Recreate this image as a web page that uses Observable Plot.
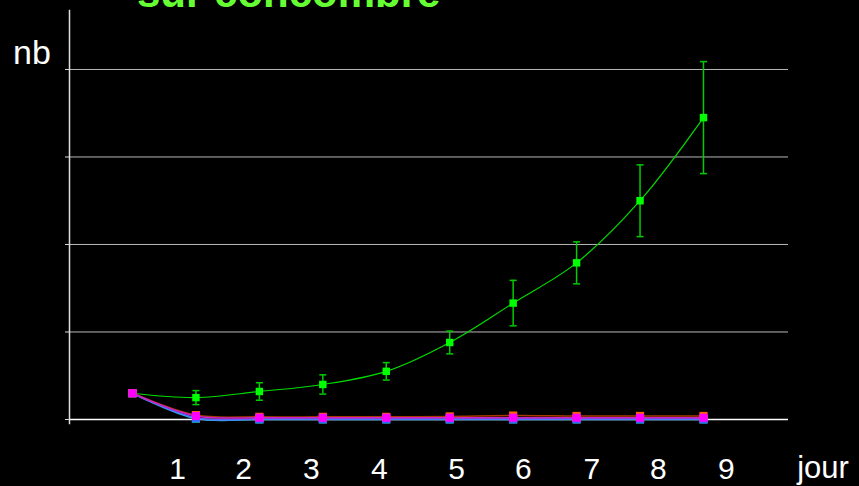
<!DOCTYPE html>
<html>
<head>
<meta charset="utf-8">
<script src="https://cdn.jsdelivr.net/npm/d3@7"></script>
<script src="https://cdn.jsdelivr.net/npm/@observablehq/plot@0.6"></script>
<style>
  html, body { margin: 0; padding: 0; background: #000; }
  #chart { position: relative; width: 859px; height: 486px; overflow: hidden; }
</style>
</head>
<body>
<div id="chart"></div>
<script>
// Days of observation (day 0 = initial count)
const days = [0, 1, 2, 3, 4, 5, 6, 7, 8, 9];

// Mean counts per series
const greenVals   = [0.30, 0.25, 0.32, 0.40, 0.55, 0.88, 1.33, 1.79, 2.50, 3.45];
const greenErr    = [0.00, 0.08, 0.10, 0.11, 0.10, 0.13, 0.26, 0.24, 0.41, 0.64];
const orangeVals  = [0.30, 0.05, 0.03, 0.03, 0.03, 0.035, 0.045, 0.04, 0.04, 0.04];
const magentaVals = [0.30, 0.04, 0.02, 0.02, 0.02, 0.02, 0.02, 0.02, 0.02, 0.02];
const blueVals    = [0.30, 0.02, 0.005, 0.005, 0.005, 0.005, 0.005, 0.005, 0.005, 0.005];
const cyanVals    = [0.30, 0.01, 0.0, 0.0, 0.0, 0.0, 0.0, 0.0, 0.0, 0.0];

// Horizontal reference lines
const gridVals = [0, 1, 2, 3, 4];

// Day labels along the bottom and where they sit on the day axis
const dayLabels = ["1", "2", "3", "4", "5", "6", "7", "8", "9"];
const labelPos  = [0.71, 1.75, 2.82, 3.89, 5.11, 6.16, 7.24, 8.29, 9.36];

const rows = (vals, err) => days.map((d, i) => ({
  day: d, v: vals[i],
  lo: err ? vals[i] - err[i] : vals[i],
  hi: err ? vals[i] + err[i] : vals[i]
}));

const green = rows(greenVals, greenErr);
const others = [
  { data: rows(cyanVals),    line: "#22bbee", fill: "#33ccff" },
  { data: rows(blueVals),    line: "#6060ff", fill: "#3366ff" },
  { data: rows(orangeVals),  line: "#a83a00", fill: "#ff6600" },
  { data: rows(magentaVals), line: "#cc22cc", fill: "#ff00ff" }
];

// Short horizontal cap for the error bars
const cap = { draw(ctx) { ctx.moveTo(-3.5, 0); ctx.lineTo(3.5, 0); } };

const marks = [
  Plot.ruleY(gridVals.filter(v => v > 0), { y: d => d, stroke: "#b8b8b8", strokeWidth: 1 }),
  Plot.ruleY([0], { stroke: "#ffffff", strokeWidth: 1.5 }),
  Plot.axisY({ ticks: gridVals, tickSize: 4, tickFormat: () => "", label: null, stroke: "#ddd" }),
  Plot.frame({ anchor: "left", stroke: "#dddddd", strokeWidth: 1.5 }),
  Plot.axisX({
    ticks: labelPos, tickSize: 0, tickPadding: 34, label: null,
    tickFormat: d => dayLabels[labelPos.indexOf(d)],
    fontSize: 30, fill: "#fff"
  }),
  // Growing series with error bars
  Plot.ruleX(green.filter(d => d.hi > d.lo), { x: "day", y1: "lo", y2: "hi", stroke: "#00cc00", strokeWidth: 1.5 }),
  Plot.dot(green.filter(d => d.hi > d.lo), { x: "day", y: "hi", symbol: cap, stroke: "#00cc00", strokeWidth: 1.5, fill: "none" }),
  Plot.dot(green.filter(d => d.hi > d.lo), { x: "day", y: "lo", symbol: cap, stroke: "#00cc00", strokeWidth: 1.5, fill: "none" }),
  Plot.line(green, { x: "day", y: "v", stroke: "#00dd00", strokeWidth: 1.2, curve: "catmull-rom" }),
  Plot.dot(green, { x: "day", y: "v", symbol: "square", r: 4.2, fill: "#00ff00" })
];

for (const s of others) {
  marks.push(Plot.line(s.data, { x: "day", y: "v", stroke: s.line, strokeWidth: 1.5, curve: "catmull-rom" }));
  marks.push(Plot.dot(s.data, { x: "day", y: "v", symbol: "square", r: 4.6, fill: s.fill }));
}

const chart = Plot.plot({
  width: 859,
  height: 486,
  marginLeft: 69,
  marginRight: 71,
  marginTop: 10,
  marginBottom: 63,
  style: { background: "#000", color: "#fff", fontFamily: "'Liberation Sans', Arial, sans-serif" },
  x: { domain: [-0.993, 10.34] },
  y: { domain: [-0.046, 4.674] },
  marks
});

const svg = d3.select(chart);
const font = "'Liberation Sans', Arial, sans-serif";
svg.append("text").attr("x", 137).attr("y", 7).attr("text-anchor", "start")
  .attr("font-family", font).attr("font-weight", "bold").attr("font-size", 42)
  .attr("fill", "#66ff33").text("sur concombre");
svg.append("text").attr("x", 13).attr("y", 64).attr("text-anchor", "start")
  .attr("font-family", font).attr("font-size", 34)
  .attr("fill", "#fff").text("nb");
svg.append("text").attr("x", 823).attr("y", 478).attr("text-anchor", "middle")
  .attr("font-family", font).attr("font-size", 31)
  .attr("fill", "#fff").text("jour");

document.getElementById("chart").appendChild(chart);
</script>
</body>
</html>
